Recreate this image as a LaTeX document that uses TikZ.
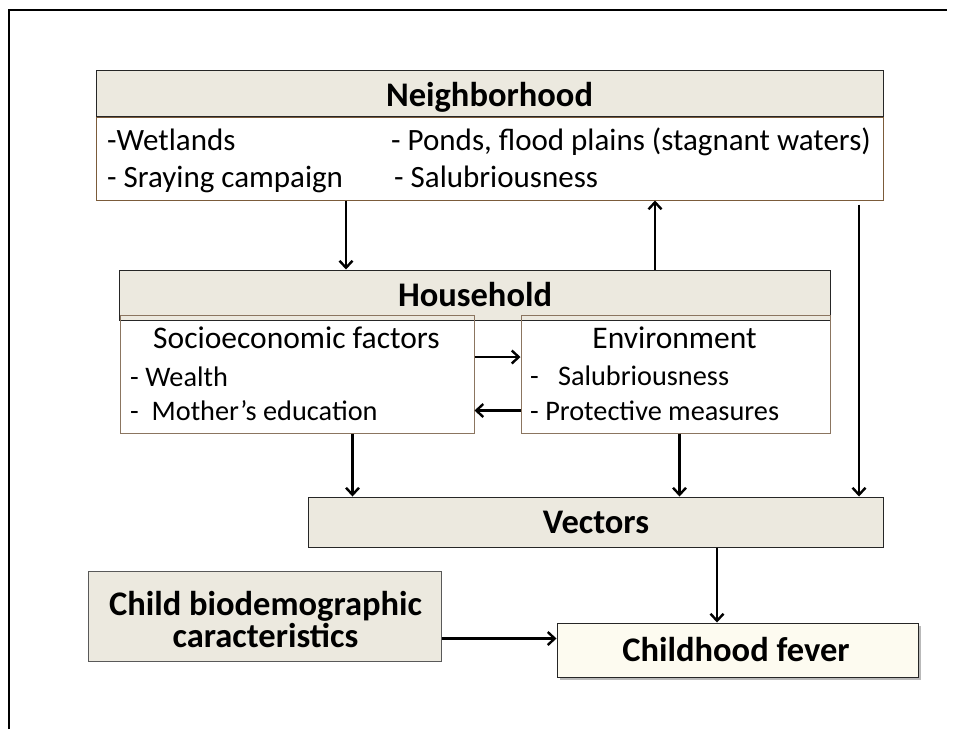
\documentclass[tikz,border=0pt]{standalone}
\usepackage{fontspec}
\setmainfont{Carlito}
\usetikzlibrary{arrows.meta,shadows}
\definecolor{hdr}{HTML}{ECE9DF}
\definecolor{brn}{HTML}{7B5B3A}
\definecolor{sbrn}{HTML}{8B7560}
\definecolor{crm}{HTML}{FDFBF0}
\tikzset{
  hdrbox/.style={draw=black!85, fill=hdr, line width=1pt, inner sep=0pt},
  bodybox/.style={draw=brn, line width=1pt, inner sep=0pt},
  subbox/.style={draw=sbrn, line width=1pt, inner sep=0pt},
  bodytxt/.style={anchor=base west, inner sep=0pt, font=\fontsize{31}{36}\selectfont},
  hhtxt/.style={anchor=base west, inner sep=0pt, font=\fontsize{28.3}{34}\selectfont},
  subhead/.style={anchor=base, inner sep=0pt, font=\fontsize{31.5}{36}\selectfont},
  headtxt/.style={anchor=base, inner sep=0pt, font=\fontsize{34.5}{32}\selectfont\bfseries},
  arr/.style={-{Straight Barb[length=7pt,width=13pt]}, line width=2.4pt},
}
\begin{document}
\begin{tikzpicture}[x=1pt,y=-1pt]
\useasboundingbox (0,0) rectangle (957,729);
% frame
\draw[line width=2.6pt] (9,729) -- (9,10) -- (947,10);
% Neighborhood
\node[hdrbox, minimum width=787pt, minimum height=46pt] (nh) at (489.5,93) {};
\node[headtxt] (nht) at (489.5,106.5) {Neighborhood};
\node[bodybox, minimum width=787pt, minimum height=83pt, anchor=north] (nbody) at (nh.south) {};
\node[bodytxt] (n1) at (107,150) {-Wetlands};
\node[bodytxt] (n2) at (107,187) {- Sraying campaign};
\node[bodytxt] (n3) at (391,150) {- Ponds, flood plains (stagnant waters)};
\node[bodytxt] (n4) at (394,187) {- Salubriousness};
% Household
\node[hdrbox, minimum width=711pt, minimum height=50pt] (hh) at (475,295) {};
\node[headtxt] (hht) at (475,306.5) {Household};
\node[subbox, minimum width=354pt, minimum height=118pt] (se) at (297,374) {};
\node[subbox, minimum width=309pt, minimum height=118pt] (env) at (675.5,374) {};
\node[subhead] (set) at (296.5,348) {Socioeconomic factors};
\node[hhtxt] (s1) at (130,386) {- Wealth};
\node[hhtxt] (s2) at (130,420) {-\ \ Mother’s education};
\node[subhead] (ent) at (674.5,348) {Environment};
\node[hhtxt] (e1) at (530,385) {-\ \ \ Salubriousness};
\node[hhtxt] (e2) at (530,420) {- Protective measures};
% Vectors
\node[hdrbox, minimum width=575pt, minimum height=50pt] (vec) at (595.5,522) {};
\node[headtxt] (vect) at (596,533) {Vectors};
% Child
\node[hdrbox, draw=black!65, minimum width=353pt, minimum height=90pt] (child) at (264.5,616) {};
\node[headtxt] (ch1) at (265.5,615) {Child biodemographic};
\node[headtxt] (ch2) at (265.5,647) {caracteristics};
% Fever
\node[hdrbox, fill=crm, minimum width=361pt, minimum height=54pt, drop shadow={shadow xshift=3pt, shadow yshift=-3pt, fill=black!55}] (fev) at (737.5,650) {};
\node[headtxt] (fevt) at (736,661) {Childhood fever};
% connectors
\draw[arr] ([xshift=250.5pt]nbody.south west) -- ([xshift=250.5pt]nbody.south west |- hh.north);
\draw[arr] ([xshift=536pt]hh.north west) -- ([xshift=536pt]hh.north west |- nbody.south);
\draw[arr, shorten <=4pt] ([xshift=763.5pt]nbody.south west) -- ([xshift=763.5pt]nbody.south west |- vec.north);
\draw[arr] ([yshift=-42.5pt]se.north east) -- ([yshift=-42.5pt]se.north east -| env.west);
\draw[arr] ([yshift=-96pt]env.north west) -- ([yshift=-96pt]env.north west -| se.east);
\draw[arr] ([xshift=233pt]se.south west) -- ([xshift=233pt]se.south west |- vec.north);
\draw[arr] ([xshift=159pt]env.south west) -- ([xshift=159pt]env.south west |- vec.north);
\draw[arr] ([xshift=121.5pt]vec.south) -- ([xshift=121.5pt]vec.south |- fev.north);
\draw[arr] ([yshift=-68pt]child.north east) -- ([yshift=-68pt]child.north east -| fev.west);
\end{tikzpicture}
\end{document}
